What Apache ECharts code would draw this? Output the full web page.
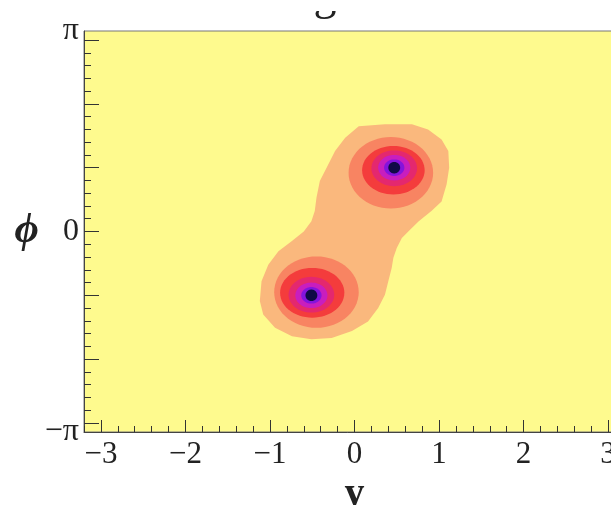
<!DOCTYPE html>
<html>
<head>
<meta charset="utf-8">
<script src="https://cdn.jsdelivr.net/npm/echarts@6/dist/echarts.min.js"></script>
<style>
  html, body { margin: 0; padding: 0; background: #fff; }
  #container { width: 611px; height: 505px; }
</style>
</head>
<body>
<div id="container"></div>
<script>
// axis ticks / labels
const yTicks = [-3, -2, -1, 0, 1, 2, 3];
const yTickLabels = ['−3', '−2', '−1', '0', '1', '2', '3'];
const phiTicks = [-3, -2, -1, 0, 1, 2, 3];
const phiLabelValues = [-Math.PI, 0, Math.PI];
const phiLabels = ['−π', '0', 'π'];

// contour level colours, lowest first (background, then filled levels)
const backgroundColor = '#fefa8e';
const levelColors = ['#fab87d', '#f88462', '#f43c3c', '#e4286e', '#c81ebe', '#8414dc', '#0f0a46'];

// outer (lowest) contour that wraps both lumps, [y, phi]
const outerContour = [
  [0.05, 1.65], [0.36, 1.68], [0.68, 1.68], [0.87, 1.60], [1.03, 1.44], [1.11, 1.26],
  [1.12, 1.00], [1.09, 0.74], [1.03, 0.47], [0.91, 0.32], [0.76, 0.16], [0.66, 0.03],
  [0.56, -0.10], [0.50, -0.26], [0.46, -0.41], [0.44, -0.57], [0.40, -0.78], [0.36, -0.99],
  [0.28, -1.20], [0.16, -1.41], [-0.03, -1.56], [-0.27, -1.67], [-0.51, -1.69], [-0.74, -1.64],
  [-0.94, -1.51], [-1.08, -1.30], [-1.12, -1.09], [-1.10, -0.78], [-1.02, -0.52], [-0.90, -0.31],
  [-0.74, -0.15], [-0.60, 0.00], [-0.51, 0.16], [-0.47, 0.32], [-0.45, 0.53], [-0.41, 0.79],
  [-0.33, 1.00], [-0.23, 1.26], [-0.11, 1.47]
];

// inner contours around each lump: [centre y, centre phi, half width in y, half height in phi, level]
const upperLump = [
  [0.43, 0.92, 0.50, 0.56, 1],
  [0.46, 0.96, 0.37, 0.38, 2],
  [0.47, 0.99, 0.27, 0.28, 3],
  [0.47, 1.00, 0.19, 0.20, 4],
  [0.47, 1.00, 0.12, 0.13, 5],
  [0.47, 1.00, 0.07, 0.09, 6]
];
const lowerLump = [
  [-0.45, -0.95, 0.50, 0.56, 1],
  [-0.50, -0.96, 0.38, 0.39, 2],
  [-0.51, -0.99, 0.27, 0.28, 3],
  [-0.51, -1.00, 0.19, 0.20, 4],
  [-0.51, -1.00, 0.12, 0.13, 5],
  [-0.51, -1.00, 0.07, 0.09, 6]
];

const serif = '"Liberation Serif", "DejaVu Serif", serif';

const minorX = [];
for (let v = -3.2; v <= 3.2001; v += 0.2) minorX.push(+v.toFixed(1));
const minorPhi = [];
for (let v = -3; v <= 3.0001; v += 0.2) minorPhi.push(+v.toFixed(1));

const chart = echarts.init(document.getElementById('container'));

const hiddenAxis = {
  type: 'value',
  axisLine: { show: false, onZero: false },
  axisLabel: { show: false },
  splitLine: { show: false }
};

const option = {
  animation: false,
  grid: {
    left: 84, top: 31, width: 541, height: 401,
    outerBoundsMode: 'none',
    containLabel: false,
    show: true,
    backgroundColor: backgroundColor,
    borderColor: '#777',
    borderWidth: 1
  },
  graphic: [
    {
      // title sits above the page, only the tail of its "g" is seen
      type: 'text', x: 325, y: 20, z: 1,
      style: { text: 'g', font: '46px ' + serif, fill: '#222', align: 'center', verticalAlign: 'bottom' }
    },
    { type: 'rect', shape: { x: 290, y: 0, width: 80, height: 11 }, style: { fill: '#fff' }, z: 2 }
  ],
  xAxis: [
    {
      type: 'value', min: -3.2, max: 3.2, position: 'bottom',
      axisLine: { show: true, onZero: false, lineStyle: { color: '#444', width: 1 } },
      axisTick: { show: true, inside: true, length: 12, customValues: yTicks, lineStyle: { color: '#333' } },
      axisLabel: {
        customValues: yTicks,
        formatter: v => yTickLabels[yTicks.indexOf(Math.round(v))],
        fontFamily: serif, fontSize: 31, color: '#222', margin: 7
      },
      splitLine: { show: false },
      name: 'y', nameLocation: 'middle', nameGap: 31,
      nameTextStyle: { fontFamily: serif, fontWeight: 'bold', fontSize: 40, color: '#222' }
    },
    Object.assign({}, hiddenAxis, {
      min: -3.2, max: 3.2, position: 'bottom',
      axisTick: { show: true, inside: true, length: 6, customValues: minorX, lineStyle: { color: '#333' } }
    })
  ],
  yAxis: [
    {
      type: 'value', min: -Math.PI, max: Math.PI, position: 'left',
      axisLine: { show: true, onZero: false, lineStyle: { color: '#444', width: 1 } },
      axisTick: { show: true, inside: true, length: 15, customValues: phiTicks, lineStyle: { color: '#333' } },
      axisLabel: {
        customValues: phiLabelValues,
        formatter: v => phiLabels[v < -1 ? 0 : v > 1 ? 2 : 1],
        fontFamily: serif, fontSize: 32, color: '#222', margin: 5
      },
      splitLine: { show: false },
      name: 'ϕ', nameLocation: 'middle', nameGap: 42, nameRotate: 0,
      nameTextStyle: { fontFamily: serif, fontWeight: 'bold', fontStyle: 'italic', fontSize: 42, color: '#222' }
    },
    Object.assign({}, hiddenAxis, {
      min: -Math.PI, max: Math.PI, position: 'left',
      axisTick: { show: true, inside: true, length: 7, customValues: minorPhi, lineStyle: { color: '#333' } }
    })
  ],
  series: [
    {
      type: 'custom',
      xAxisIndex: 0, yAxisIndex: 0,
      data: [[0, 0]],
      renderItem: function (params, api) {
        return {
          type: 'polygon',
          shape: { points: outerContour.map(p => api.coord(p)) },
          style: { fill: levelColors[0] }
        };
      }
    },
    {
      type: 'custom',
      xAxisIndex: 0, yAxisIndex: 0,
      encode: { x: 0, y: 1 },
      data: upperLump.concat(lowerLump),
      renderItem: function (params, api) {
        const cx = api.value(0), cy = api.value(1);
        const rx = api.value(2), ry = api.value(3);
        const pts = [];
        for (let i = 0; i < 60; i++) {
          const t = i / 60 * Math.PI * 2;
          pts.push(api.coord([cx + rx * Math.cos(t), cy + ry * Math.sin(t)]));
        }
        return {
          type: 'polygon',
          shape: { points: pts },
          style: { fill: levelColors[api.value(4)] }
        };
      }
    }
  ]
};

chart.setOption(option);
</script>
</body>
</html>
